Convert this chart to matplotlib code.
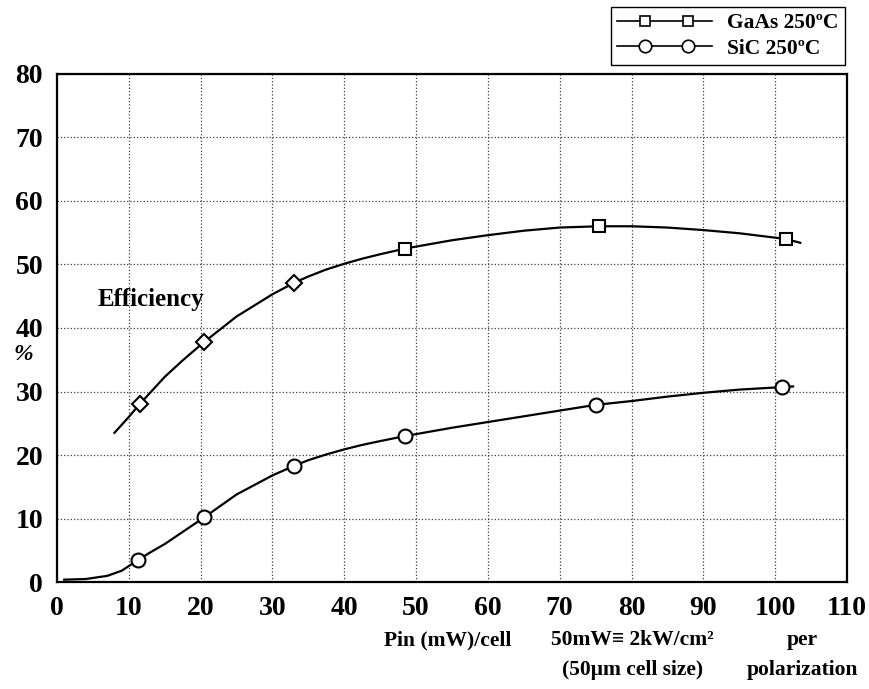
import matplotlib
matplotlib.use('Agg')
import matplotlib.pyplot as plt
from matplotlib.lines import Line2D
from matplotlib.legend_handler import HandlerLine2D

plt.rcParams['font.family'] = ['Liberation Serif', 'DejaVu Serif']
plt.rcParams['font.weight'] = 'bold'

# measured points (Pin mW/cell, efficiency %)
gaas_x = [11.5, 20.5, 33.0, 48.5, 75.5, 101.5]
gaas_y = [28.0, 37.8, 47.1, 52.5, 56.0, 54.0]
sic_x = [11.3, 20.5, 33.0, 48.5, 75.0, 101.0]
sic_y = [3.5, 10.2, 18.3, 23.0, 27.9, 30.7]

# hand drawn fit curves
gaas_cx = [8, 10, 11.5, 15, 17.5, 20.5, 25, 30, 33, 35, 37.5, 40, 42.5, 45,
           48.5, 55, 60, 65, 70, 75.5, 80, 85, 90, 95, 101.5, 103.5]
gaas_cy = [23.5, 26.0, 28.0, 32.3, 34.9, 37.8, 41.8, 45.3, 47.1, 48.1, 49.2,
           50.1, 50.9, 51.6, 52.5, 53.8, 54.6, 55.3, 55.8, 56.0, 56.0, 55.8,
           55.4, 54.9, 54.0, 53.4]
sic_cx = [1, 4, 7, 9, 11.3, 13, 15, 20.5, 25, 30, 33, 35, 37.5, 40, 42.5, 45,
          48.5, 55, 60, 65, 70, 75, 80, 85, 90, 95, 101, 102.5]
sic_cy = [0.4, 0.5, 1.0, 1.8, 3.5, 4.7, 6.0, 10.2, 13.8, 16.8, 18.3, 19.2,
          20.1, 20.9, 21.6, 22.2, 23.0, 24.3, 25.2, 26.1, 27.0, 27.9, 28.5,
          29.2, 29.8, 30.3, 30.7, 30.8]

xticks = list(range(0, 111, 10))
yticks = list(range(0, 81, 10))


class TwoMarkHandler(HandlerLine2D):
    # full width line with two markers sitting inside it
    def create_artists(self, legend, orig_handle, xdescent, ydescent,
                       width, height, fontsize, trans):
        y = height / 2 - ydescent
        x0 = -xdescent
        line = Line2D([x0, x0 + width], [y, y], color='k',
                      lw=orig_handle.get_linewidth())
        marks = Line2D([x0 + 0.29 * width, x0 + 0.75 * width], [y, y],
                       ls='none', marker=orig_handle.get_marker(),
                       ms=orig_handle.get_markersize(), mfc='white',
                       mec='k', mew=orig_handle.get_markeredgewidth())
        line.set_transform(trans)
        marks.set_transform(trans)
        return [line, marks]


fig = plt.figure(figsize=(8.7, 6.89), dpi=100)
ax = fig.add_axes([0.0655, 0.155, 0.908, 0.738])

ax.plot(gaas_cx, gaas_cy, color='k', lw=1.6)
ax.plot(sic_cx, sic_cy, color='k', lw=1.6)

mk = dict(ls='none', mfc='white', mec='k', mew=1.5, zorder=3)
ax.plot(gaas_x[:3], gaas_y[:3], marker='D', ms=8, **mk)
ax.plot(gaas_x[3:], gaas_y[3:], marker='s', ms=8, **mk)
ax.plot(sic_x, sic_y, marker='o', ms=10, **mk)

ax.set_xlim(0, 110)
ax.set_ylim(0, 80)
ax.set_xticks(xticks)
ax.set_yticks(yticks)
ax.tick_params(length=0, labelsize=20, pad=10)
for lab in ax.get_xticklabels() + ax.get_yticklabels():
    lab.set_fontweight('bold')
ax.grid(True, ls=':', lw=0.9, color='0.25')
for s in ax.spines.values():
    s.set_linewidth(1.6)

ax.text(5.7, 44.4, 'Efficiency', fontsize=18, fontweight='bold', va='center')
fig.text(0.027, 1 - 355 / 689, '%', fontsize=17, fontweight='bold',
         ha='center', va='center', style='italic')

fs = 15.5
fig.text(0.515, 1 - 640 / 689, 'Pin (mW)/cell', fontsize=fs,
         fontweight='bold', ha='center', va='center')
fig.text(0.727, 1 - 640 / 689, '50mW\u2261 2kW/cm\u00b2', fontsize=fs,
         fontweight='bold', ha='center', va='center')
fig.text(0.727, 1 - 670 / 689, '(50\u03bcm cell size)', fontsize=fs,
         fontweight='bold', ha='center', va='center')
fig.text(0.922, 1 - 640 / 689, 'per', fontsize=fs,
         fontweight='bold', ha='center', va='center')
fig.text(0.922, 1 - 670 / 689, 'polarization', fontsize=fs,
         fontweight='bold', ha='center', va='center')

handles = [Line2D([], [], color='k', lw=1.2, marker='s', ms=7, mfc='white',
                  mec='k', mew=1.2),
           Line2D([], [], color='k', lw=1.2, marker='o', ms=9, mfc='white',
                  mec='k', mew=1.2)]
leg = fig.legend(handles, ['GaAs 250\u00baC', 'SiC 250\u00baC'],
                 loc='upper right', bbox_to_anchor=(0.971, 0.99),
                 borderaxespad=0, handlelength=4.4,
                 handler_map={Line2D: TwoMarkHandler()},
                 fancybox=False, framealpha=1, edgecolor='k', borderpad=0.3,
                 labelspacing=0.25, handletextpad=0.7,
                 prop={'size': 15.5, 'weight': 'bold'})
leg.get_frame().set_linewidth(1.0)

fig.savefig('out.png', dpi=100)
